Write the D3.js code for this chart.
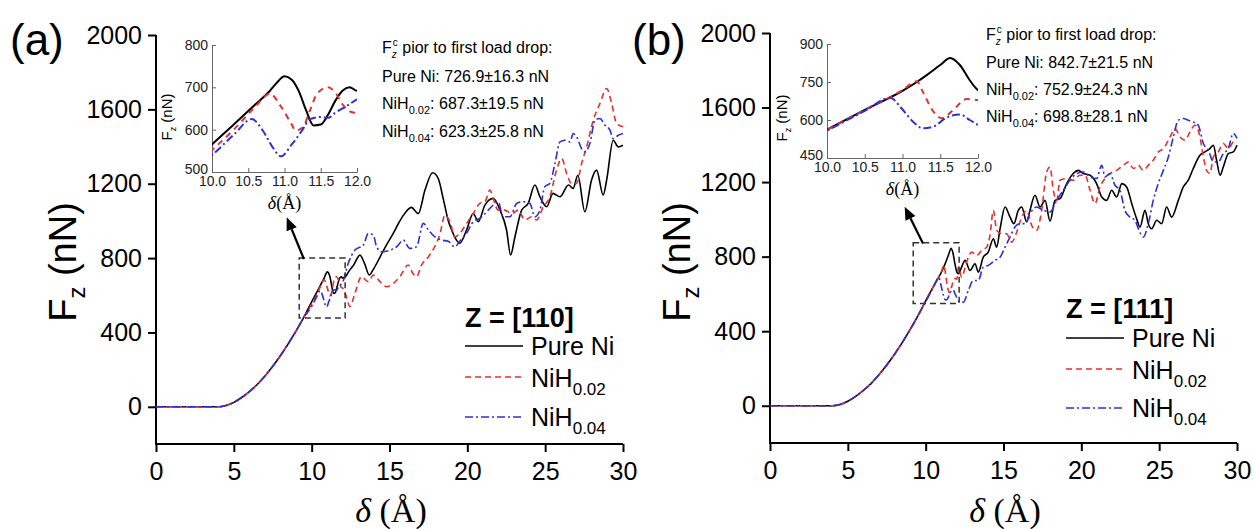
<!DOCTYPE html>
<html>
<head>
<meta charset="utf-8">
<script src="https://cdn.jsdelivr.net/npm/d3@7"></script>
<style>
  body { margin: 0; background: #fff; }
  svg { display: block; }
</style>
</head>
<body>
<svg id="chart" width="1254" height="529" font-family="'Liberation Sans', Arial, sans-serif"></svg>
<script>
// ---------- data ----------
// indentation depth δ (Å) and normal load Fz (nN)

// elastic (Hertzian) loading branch shared by every sample
const riseDelta = [0, 1, 2, 3, 3.5, 4.0, 4.5, 5.0, 5.5, 6.0, 6.5, 7.0, 7.5, 8.0, 8.5, 9.0, 9.5];
const riseForce = [0, 0, 0, 0, 0, 0, 7, 24, 50, 82, 120, 166, 218, 276, 340, 408, 482];

// Z = [110]
const a110PureNi = [[10.0,565],[10.3,612],[10.6,660],[10.8,692],[10.9,712],[11.0,726],[11.1,718],[11.2,690],[11.3,645],[11.4,610],[11.5,612],[11.6,635],[11.7,668],[11.8,692],[11.9,700],[12.0,692],[12.2,703],[12.4,730],[12.7,763],[13.1,816],[13.4,770],[13.7,709],[14.0,745],[14.4,807],[14.8,870],[15.24,933],[15.6,990],[15.9,1031],[16.4,1073],[16.85,1040],[17.28,1166],[17.77,1259],[18.13,1228],[18.45,1120],[18.78,1000],[19.0,950],[19.3,897],[19.5,879],[19.95,951],[20.38,1040],[20.7,996],[21.13,1085],[21.66,1121],[22.1,1058],[22.52,951],[22.78,817],[23.06,915],[23.49,1058],[23.91,1094],[24.34,1193],[24.66,1130],[25.1,1076],[25.5,1148],[25.95,1130],[26.5,1193],[26.8,1175],[27.1,1246],[27.55,1049],[27.98,1220],[28.3,1273],[28.73,1139],[28.95,1220],[29.37,1434],[29.7,1398],[30.0,1407]];
const a110NiH002 = [[10.0,552],[10.3,600],[10.6,655],[10.8,685],[10.95,655],[11.1,612],[11.15,598],[11.25,605],[11.35,645],[11.45,685],[11.6,700],[11.7,688],[11.8,660],[11.9,643],[12.0,638],[12.2,600],[12.46,539],[12.78,611],[13.2,700],[13.64,673],[13.96,709],[14.39,673],[14.82,646],[15.24,664],[15.67,700],[16.2,763],[16.5,718],[16.74,700],[17.06,763],[17.5,807],[17.9,861],[18.24,930],[18.56,1031],[18.88,996],[19.2,915],[19.52,933],[19.95,987],[20.38,1040],[20.8,1094],[21.13,1103],[21.45,1166],[21.66,1121],[21.98,1058],[22.4,1058],[22.85,1040],[23.27,1058],[23.7,1005],[24.13,1022],[24.45,1005],[24.88,1076],[25.3,1130],[25.73,1273],[26.06,1336],[26.38,1255],[26.7,1202],[27.02,1202],[27.34,1309],[27.66,1398],[28.09,1542],[28.52,1632],[28.95,1712],[29.27,1632],[29.59,1524],[30.0,1506]];
const a110NiH004 = [[10.0,540],[10.3,588],[10.55,625],[10.7,598],[10.85,555],[10.95,537],[11.1,565],[11.25,600],[11.35,625],[11.5,630],[11.6,628],[11.7,640],[11.85,655],[12.0,672],[12.35,772],[12.78,843],[13.32,870],[13.64,933],[13.96,924],[14.17,861],[14.5,834],[15.03,843],[15.46,861],[15.88,897],[16.3,852],[16.74,861],[17.17,987],[17.5,951],[17.9,915],[18.35,897],[18.78,890],[19.2,860],[19.5,890],[19.95,933],[20.38,996],[20.8,1013],[21.24,1049],[21.66,1085],[21.98,1103],[22.3,1022],[22.74,1022],[23.17,1094],[23.59,1103],[24.02,1094],[24.34,1022],[24.66,1058],[24.98,1184],[25.3,1202],[25.63,1309],[25.95,1425],[26.27,1434],[26.6,1425],[26.8,1470],[27.02,1452],[27.34,1389],[27.55,1371],[27.87,1416],[28.2,1542],[28.52,1551],[28.84,1515],[29.16,1488],[29.37,1443],[29.7,1461],[30.0,1470]];

// Z = [111]
const b111PureNi = [[10.0,562],[10.5,640],[11.0,715],[11.2,752],[11.32,777],[11.5,817],[11.63,845],[11.76,817],[11.89,757],[12.0,718],[12.1,708],[12.31,744],[12.53,780],[12.85,726],[13.17,762],[13.38,717],[13.7,797],[14.02,824],[14.35,896],[14.56,851],[14.78,950],[15.1,1066],[15.42,1012],[15.67,977],[15.95,1048],[16.17,1066],[16.49,986],[16.7,1048],[17.02,1129],[17.35,1066],[17.67,1102],[17.99,990],[18.31,1102],[18.63,1111],[19.06,1192],[19.48,1246],[19.81,1263],[20.13,1246],[20.56,1237],[20.98,1192],[21.31,1120],[21.63,1102],[21.95,1156],[22.27,1120],[22.6,1192],[22.91,1174],[23.24,1084],[23.55,1004],[23.77,959],[24.09,1048],[24.3,977],[24.52,950],[24.84,995],[25.16,977],[25.48,1066],[25.8,1012],[26.23,1102],[26.55,1174],[26.87,1210],[27.19,1273],[27.62,1344],[27.94,1362],[28.26,1380],[28.48,1398],[28.69,1317],[28.91,1237],[29.12,1281],[29.44,1353],[29.76,1362],[30.0,1398]];
const b111NiH002 = [[10.0,562],[10.5,640],[11.0,718],[11.19,753],[11.27,711],[11.41,633],[11.52,607],[11.67,639],[11.85,683],[12.0,679],[12.1,744],[12.31,690],[12.63,771],[12.96,824],[13.28,806],[13.6,833],[13.92,851],[14.13,914],[14.35,1048],[14.56,941],[14.88,923],[15.2,923],[15.53,878],[15.85,932],[16.17,1012],[16.49,1048],[16.81,968],[17.13,941],[17.45,1048],[17.77,1254],[17.99,1281],[18.2,1156],[18.42,1102],[18.63,1210],[19.06,1219],[19.48,1210],[19.91,1237],[20.24,1237],[20.56,1156],[20.88,1084],[21.2,1174],[21.52,1219],[21.84,1246],[22.27,1263],[22.7,1290],[23.02,1308],[23.34,1273],[23.66,1290],[23.98,1263],[24.3,1290],[24.62,1317],[24.94,1362],[25.27,1380],[25.7,1442],[26.02,1487],[26.34,1442],[26.66,1425],[26.98,1469],[27.3,1505],[27.62,1442],[27.84,1335],[28.05,1263],[28.26,1246],[28.48,1335],[28.8,1362],[29.12,1407],[29.44,1380],[29.76,1416],[30.0,1425]];
const b111NiH004 = [[10.0,558],[10.5,636],[10.84,688],[10.97,652],[11.14,593],[11.27,567],[11.41,574],[11.58,609],[11.76,622],[11.89,600],[12.0,580],[12.21,555],[12.42,555],[12.74,618],[13.06,672],[13.38,672],[13.7,744],[14.02,753],[14.45,780],[14.78,797],[15.1,851],[15.42,905],[15.74,959],[16.06,977],[16.38,977],[16.7,1031],[17.13,1066],[17.56,1048],[17.99,1040],[18.42,1102],[18.84,1156],[19.27,1210],[19.7,1246],[20.13,1254],[20.56,1228],[20.98,1219],[21.31,1290],[21.52,1228],[21.84,1246],[22.16,1183],[22.48,1156],[22.8,1048],[23.12,1012],[23.45,995],[23.66,950],[23.98,905],[24.3,977],[24.62,1102],[24.94,1192],[25.27,1263],[25.59,1335],[25.91,1442],[26.23,1532],[26.55,1541],[26.87,1532],[27.19,1523],[27.51,1505],[27.84,1407],[28.16,1371],[28.48,1308],[28.8,1308],[29.12,1353],[29.44,1380],[29.76,1461],[30.0,1435]];

// axis ticks
const mainXTicks = [0, 5, 10, 15, 20, 25, 30];
const mainYTicks = [0, 400, 800, 1200, 1600, 2000];
const insetXTicks = [10.0, 10.5, 11.0, 11.5, 12.0];
const insetYTicksA = [500, 600, 700, 800];
const insetYTicksB = [450, 600, 750, 900];

// legend / annotation text
const seriesNames = ["Pure Ni", "NiH", "NiH"];
const seriesSubs = ["", "0.02", "0.04"];
const criticalA = ["726.9±16.3 nN", "687.3±19.5 nN", "623.3±25.8 nN"];
const criticalB = ["842.7±21.5 nN", "752.9±24.3 nN", "698.8±28.1 nN"];

// ---------- styling ----------
const SANS = "'Liberation Sans', Arial, sans-serif";
const SERIF = "'Liberation Serif', 'DejaVu Serif', serif";
const RED = "#e3312e", BLUE = "#2f2fd2";
const styles = [
  { color: "#000", dash: null,        insetDash: null },
  { color: RED,    dash: "6,4",       insetDash: "6,5" },
  { color: BLUE,   dash: "8,3,2,3",   insetDash: "8,3,2,3" }
];

const buildSeries = tail => riseDelta.map((d, i) => [d, riseForce[i]]).concat(tail);

const panels = [
  {
    tag: "(a)", tagX: 10, tagY: 55, zone: "Z = [110]",
    series: [a110PureNi, a110NiH002, a110NiH004].map(buildSeries),
    crit: criticalA,
    plot: { left: 156, right: 623, top: 35, bottom: 444 },
    yLab: { x: 76, y: 262 },
    xLab: { x: 391, y: 522 },
    inset: { left: 212, right: 357, top: 45, bottom: 172, dom: [500, 800], ticks: insetYTicksA,
             minor: [550, 650, 750], yLabX: 172, yLabY: 117, xLabY: 209 },
    box: { d0: 9.2, d1: 12.15, f0: 478, f1: 800 },
    arrow: { from: [9.5, 795], to: [8.4, 1020] },
    note: { x: 382, ys: [53, 82, 109, 137] },
    legend: { x: 465, titleY: 327, lineYs: [346, 377, 417], textYs: [355, 387, 426] }
  },
  {
    tag: "(b)", tagX: 632, tagY: 55, zone: "Z = [111]",
    series: [b111PureNi, b111NiH002, b111NiH004].map(buildSeries),
    crit: criticalB,
    plot: { left: 770, right: 1237, top: 33, bottom: 443 },
    yLab: { x: 690, y: 262 },
    xLab: { x: 1005, y: 522 },
    inset: { left: 827, right: 978, top: 44, bottom: 158, dom: [450, 900], ticks: insetYTicksB,
             minor: [525, 675, 825], yLabX: 787, yLabY: 118, xLabY: 195 },
    box: { d0: 9.2, d1: 12.15, f0: 548, f1: 875 },
    arrow: { from: [9.83, 870], to: [8.65, 1068] },
    note: { x: 986, ys: [40, 68, 95, 122] },
    legend: { x: 1066, titleY: 318, lineYs: [338, 369, 408], textYs: [347, 379, 417] }
  }
];

const svg = d3.select("#chart");
svg.append("rect").attr("width", 1254).attr("height", 529).attr("fill", "#fff");

const defs = svg.append("defs");

panels.forEach((p, pi) => {
  const g = svg.append("g");
  const x = d3.scaleLinear().domain([0, 30]).range([p.plot.left, p.plot.right]);
  const y = d3.scaleLinear().domain([-200, 2000]).range([p.plot.bottom, p.plot.top]);

  // ---- main axes ----
  const xMinor = d3.range(2.5, 30, 5);
  const yMinor = d3.range(-200, 2000, 400);

  const gx = g.append("g").attr("transform", `translate(0,${p.plot.bottom})`);
  gx.call(d3.axisBottom(x).tickValues(xMinor).tickSize(5).tickSizeOuter(0).tickFormat(""));
  gx.call(d3.axisBottom(x).tickValues(mainXTicks).tickSize(8).tickSizeOuter(0).tickPadding(10).tickFormat(d3.format("d")));
  const gy = g.append("g").attr("transform", `translate(${p.plot.left},0)`);
  gy.call(d3.axisLeft(y).tickValues(yMinor).tickSize(5).tickSizeOuter(0).tickFormat(""));
  gy.call(d3.axisLeft(y).tickValues(mainYTicks).tickSize(8).tickSizeOuter(0).tickPadding(6).tickFormat(d3.format("d")));
  [gx, gy].forEach(a => {
    a.attr("font-family", SANS);
    a.selectAll("path.domain").attr("stroke", "#000").attr("stroke-width", 2);
    a.selectAll(".tick line").attr("stroke", "#000").attr("stroke-width", 2);
    a.selectAll(".tick text").attr("font-size", 25).attr("fill", "#000");
  });
  // domain lines reach the bottom-left corner together
  gy.select("path.domain").attr("d", `M0,${p.plot.top}V${p.plot.bottom + 1}`);
  gx.select("path.domain").attr("d", `M${p.plot.left - 1},0H${p.plot.right}`);

  // ---- curves ----
  const line = d3.line().x(d => x(d[0])).y(d => y(d[1])).curve(d3.curveMonotoneX);
  p.series.forEach((s, i) => {
    g.append("path").datum(s).attr("d", line).attr("fill", "none")
      .attr("stroke", styles[i].color).attr("stroke-width", 1.6)
      .attr("stroke-dasharray", styles[i].dash);
  });

  // ---- zoom box + arrow ----
  g.append("rect")
    .attr("x", x(p.box.d0)).attr("y", y(p.box.f1))
    .attr("width", x(p.box.d1) - x(p.box.d0)).attr("height", y(p.box.f0) - y(p.box.f1))
    .attr("fill", "none").attr("stroke", "#333").attr("stroke-width", 1.5).attr("stroke-dasharray", "6,4");
  const ax0 = x(p.arrow.from[0]), ay0 = y(p.arrow.from[1]);
  const ax1 = x(p.arrow.to[0]), ay1 = y(p.arrow.to[1]);
  const ang = Math.atan2(ay1 - ay0, ax1 - ax0);
  const headLen = 13, headW = 5.5;
  const bx = ax1 - headLen * Math.cos(ang), by = ay1 - headLen * Math.sin(ang);
  g.append("line").attr("x1", ax0).attr("y1", ay0).attr("x2", bx).attr("y2", by)
    .attr("stroke", "#000").attr("stroke-width", 2.2);
  g.append("path")
    .attr("d", `M${ax1},${ay1}L${bx + headW * Math.sin(ang)},${by - headW * Math.cos(ang)}L${bx - headW * Math.sin(ang)},${by + headW * Math.cos(ang)}Z`)
    .attr("fill", "#000");

  // ---- panel tag & axis titles ----
  g.append("text").attr("x", p.tagX).attr("y", p.tagY).attr("font-size", 44).text(p.tag);

  const yl = g.append("text").attr("transform", `translate(${p.yLab.x},${p.yLab.y}) rotate(-90)`)
    .attr("text-anchor", "middle").attr("font-size", 38);
  yl.append("tspan").text("F");
  yl.append("tspan").attr("font-size", 24).attr("dy", 9).text("z");
  yl.append("tspan").attr("dy", -9).text(" (nN)");

  const xl = g.append("text").attr("x", p.xLab.x).attr("y", p.xLab.y).attr("text-anchor", "middle")
    .attr("font-size", 34).attr("font-family", SERIF);
  xl.append("tspan").attr("font-style", "italic").text("δ");
  xl.append("tspan").text(" (Å)");

  // ---- legend ----
  const L = p.legend;
  g.append("text").attr("x", L.x).attr("y", L.titleY).attr("font-size", 27).attr("font-weight", "bold").text(p.zone);
  seriesNames.forEach((name, i) => {
    g.append("line").attr("x1", L.x).attr("x2", L.x + 58).attr("y1", L.lineYs[i]).attr("y2", L.lineYs[i])
      .attr("stroke", styles[i].color).attr("stroke-width", 1.6).attr("stroke-dasharray", styles[i].dash);
    const t = g.append("text").attr("x", L.x + 66).attr("y", L.textYs[i]).attr("font-size", 25);
    t.append("tspan").text(name);
    if (seriesSubs[i]) t.append("tspan").attr("font-size", 17).attr("dy", 8).text(seriesSubs[i]);
  });

  // ---- critical-load note ----
  const N = p.note;
  const n0 = g.append("text").attr("x", N.x).attr("y", N.ys[0]).attr("font-size", 16);
  n0.append("tspan").text("F");
  n0.append("tspan").attr("font-size", 10).attr("font-style", "italic").attr("dy", 5).text("z");
  n0.append("tspan").attr("font-size", 10).attr("dy", -12).attr("dx", -4).text("c");
  n0.append("tspan").attr("dy", 7).text(" pior to first load drop:");
  p.crit.forEach((v, i) => {
    const t = g.append("text").attr("x", N.x).attr("y", N.ys[i + 1]).attr("font-size", 16);
    t.append("tspan").text(i === 0 ? "Pure Ni" : "NiH");
    if (i > 0) t.append("tspan").attr("font-size", 11).attr("dy", 5).text(seriesSubs[i]);
    t.append("tspan").attr("dy", i > 0 ? -5 : 0).text(": " + v);
  });

  // ---- inset ----
  const I = p.inset;
  const ix = d3.scaleLinear().domain([10, 12]).range([I.left, I.right]);
  const iy = d3.scaleLinear().domain(I.dom).range([I.bottom, I.top]);
  const clipId = "inset-clip-" + pi;
  defs.append("clipPath").attr("id", clipId).append("rect")
    .attr("x", I.left).attr("y", I.top).attr("width", I.right - I.left).attr("height", I.bottom - I.top);

  const ig = g.append("g");
  const igx = ig.append("g").attr("transform", `translate(0,${I.bottom})`);
  igx.call(d3.axisBottom(ix).tickValues(d3.range(10.25, 12, 0.5)).tickSize(-2.5).tickSizeOuter(0).tickFormat(""));
  igx.call(d3.axisBottom(ix).tickValues(insetXTicks).tickSize(-4).tickSizeOuter(0).tickPadding(4).tickFormat(d3.format(".1f")));
  const igy = ig.append("g").attr("transform", `translate(${I.left},0)`);
  igy.call(d3.axisLeft(iy).tickValues(I.minor).tickSize(-2.5).tickSizeOuter(0).tickFormat(""));
  igy.call(d3.axisLeft(iy).tickValues(I.ticks).tickSize(-4).tickSizeOuter(0).tickPadding(4).tickFormat(d3.format("d")));
  [igx, igy].forEach(a => {
    a.attr("font-family", SANS);
    a.selectAll("path.domain").attr("stroke", "#666").attr("stroke-width", 1);
    a.selectAll(".tick line").attr("stroke", "#666").attr("stroke-width", 1);
    a.selectAll(".tick text").attr("font-size", 14).attr("fill", "#222");
  });
  // lowest y label sits just above the x labels
  igy.selectAll(".tick text").filter(d => d === I.dom[0]).attr("dy", "0.1em");

  const iline = d3.line().x(d => ix(d[0])).y(d => iy(d[1])).curve(d3.curveMonotoneX);
  const curves = ig.append("g").attr("clip-path", `url(#${clipId})`);
  p.series.forEach((s, i) => {
    curves.append("path").datum(s.filter(d => d[0] >= 9.5 && d[0] <= 12.2)).attr("d", iline)
      .attr("fill", "none").attr("stroke", styles[i].color).attr("stroke-width", 2)
      .attr("stroke-dasharray", styles[i].insetDash);
  });

  const iyl = ig.append("text").attr("transform", `translate(${I.yLabX},${I.yLabY}) rotate(-90)`)
    .attr("text-anchor", "middle").attr("font-size", 15);
  iyl.append("tspan").text("F");
  iyl.append("tspan").attr("font-size", 9).attr("dy", 4).text("z");
  iyl.append("tspan").attr("dy", -4).text(" (nN)");

  const ixl = ig.append("text").attr("x", (I.left + I.right) / 2).attr("y", I.xLabY).attr("text-anchor", "middle")
    .attr("font-size", 18).attr("font-family", SERIF);
  ixl.append("tspan").attr("font-style", "italic").text("δ");
  ixl.append("tspan").text("(Å)");
});
</script>
</body>
</html>
